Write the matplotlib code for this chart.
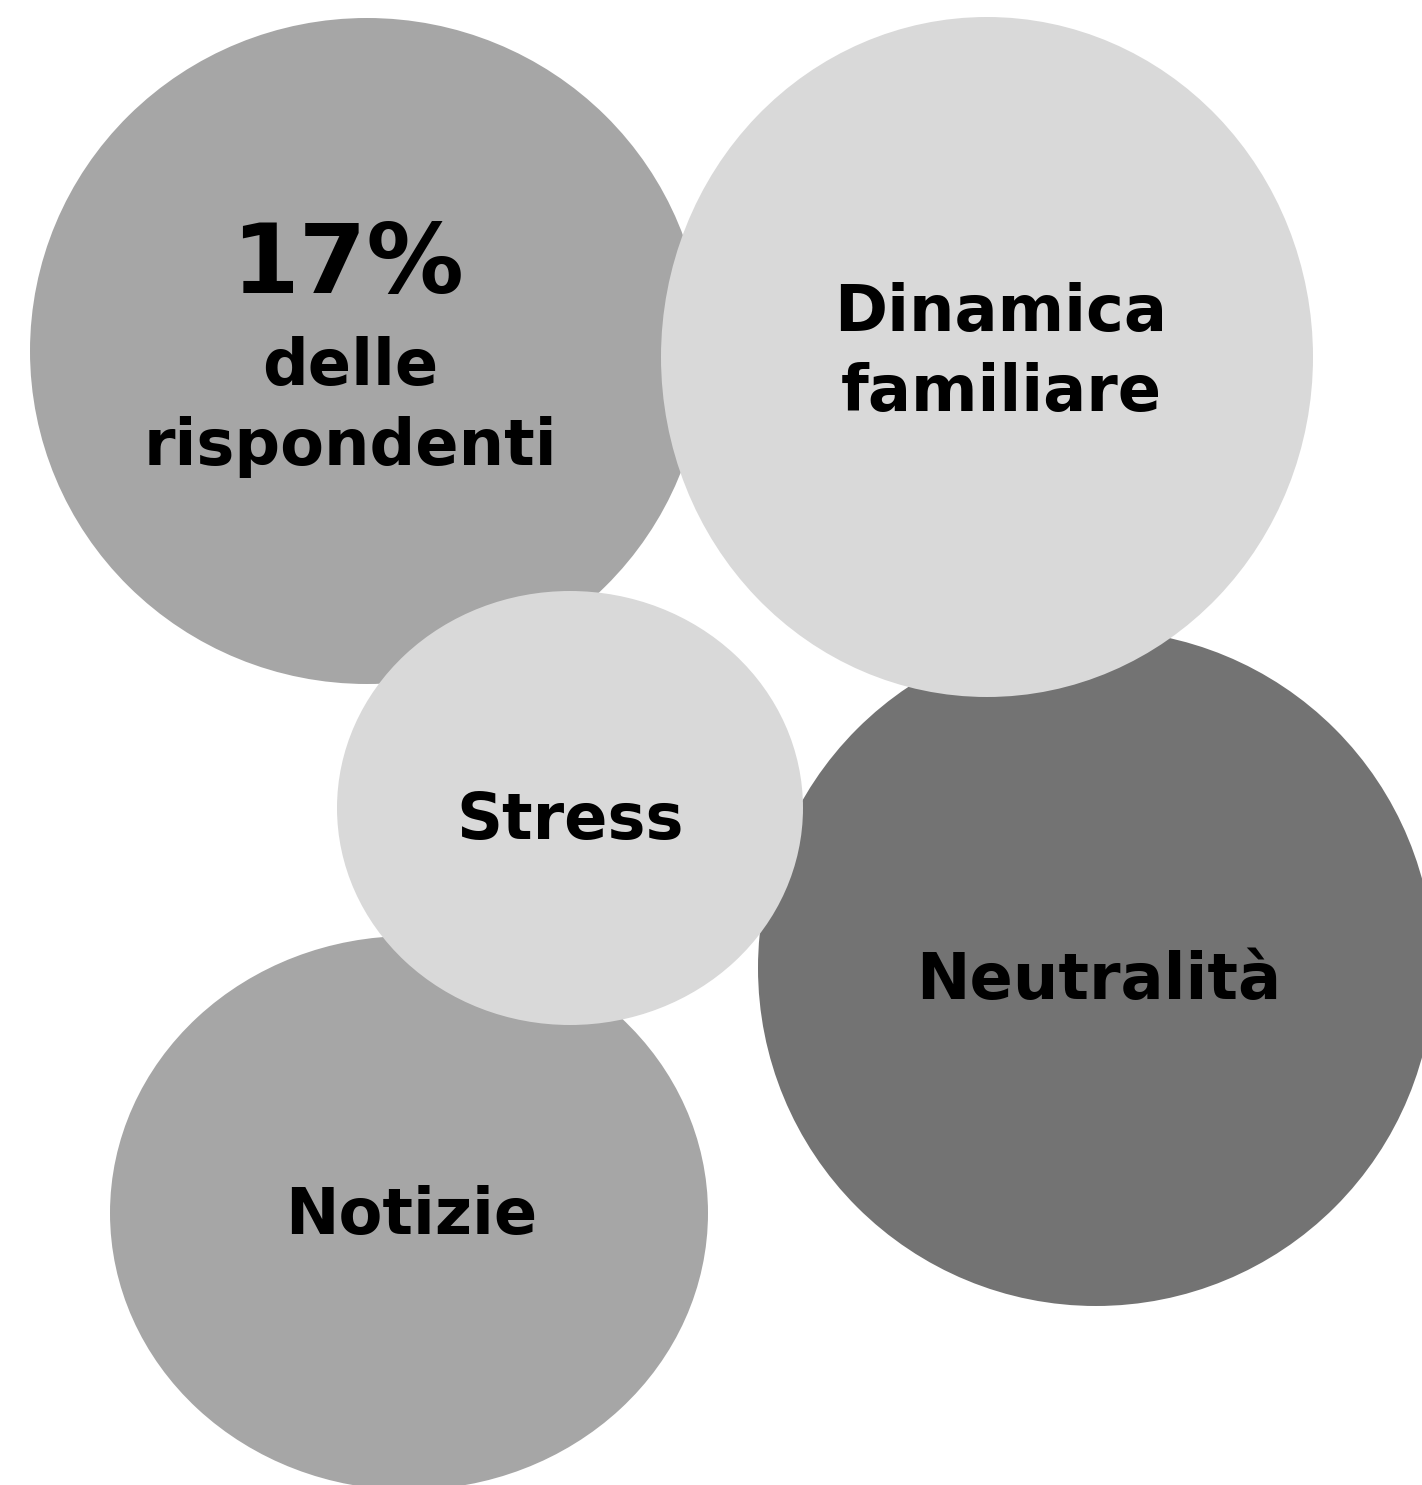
import matplotlib
matplotlib.use("Agg")
import matplotlib.pyplot as plt
from matplotlib.patches import Ellipse

# bubble labels (drawing order)
labels = ["delle\nrispondenti", "Neutralità", "Dinamica\nfamiliare", "Notizie", "Stress"]
headline = "17%"
colors = ["#a6a6a6", "#737373", "#d9d9d9", "#a6a6a6", "#d9d9d9"]

# layout in pixels (centre, radii)
cx = [367, 1096, 987, 409, 570]
cy = [351, 968, 357, 1213, 808]
rx = [337, 338, 326, 299, 233]
ry = [333, 338, 340, 277, 217]
# baseline of the first text line in each bubble
text_base = [385, 999, 331, 1234, 839]
text_x = [350, 1099, 1001, 411, 570]

W, H = 1422, 1485
fig = plt.figure(figsize=(W / 100, H / 100), dpi=100)
ax = fig.add_axes([0, 0, 1, 1])
ax.set_xlim(0, W)
ax.set_ylim(H, 0)
ax.axis("off")

font = dict(family="DejaVu Sans", weight="bold", color="black")
line_gap = 80

for i in range(len(labels)):
    ax.add_patch(Ellipse((cx[i], cy[i]), 2 * rx[i], 2 * ry[i],
                         facecolor=colors[i], edgecolor="none"))
    for j, line in enumerate(labels[i].split("\n")):
        ax.text(text_x[i], text_base[i] + j * line_gap, line,
                ha="center", va="baseline", fontsize=46, **font)

ax.text(348, 293, headline, ha="center", va="baseline", fontsize=70, **font)

plt.savefig("out.png", dpi=100)
plt.close()
